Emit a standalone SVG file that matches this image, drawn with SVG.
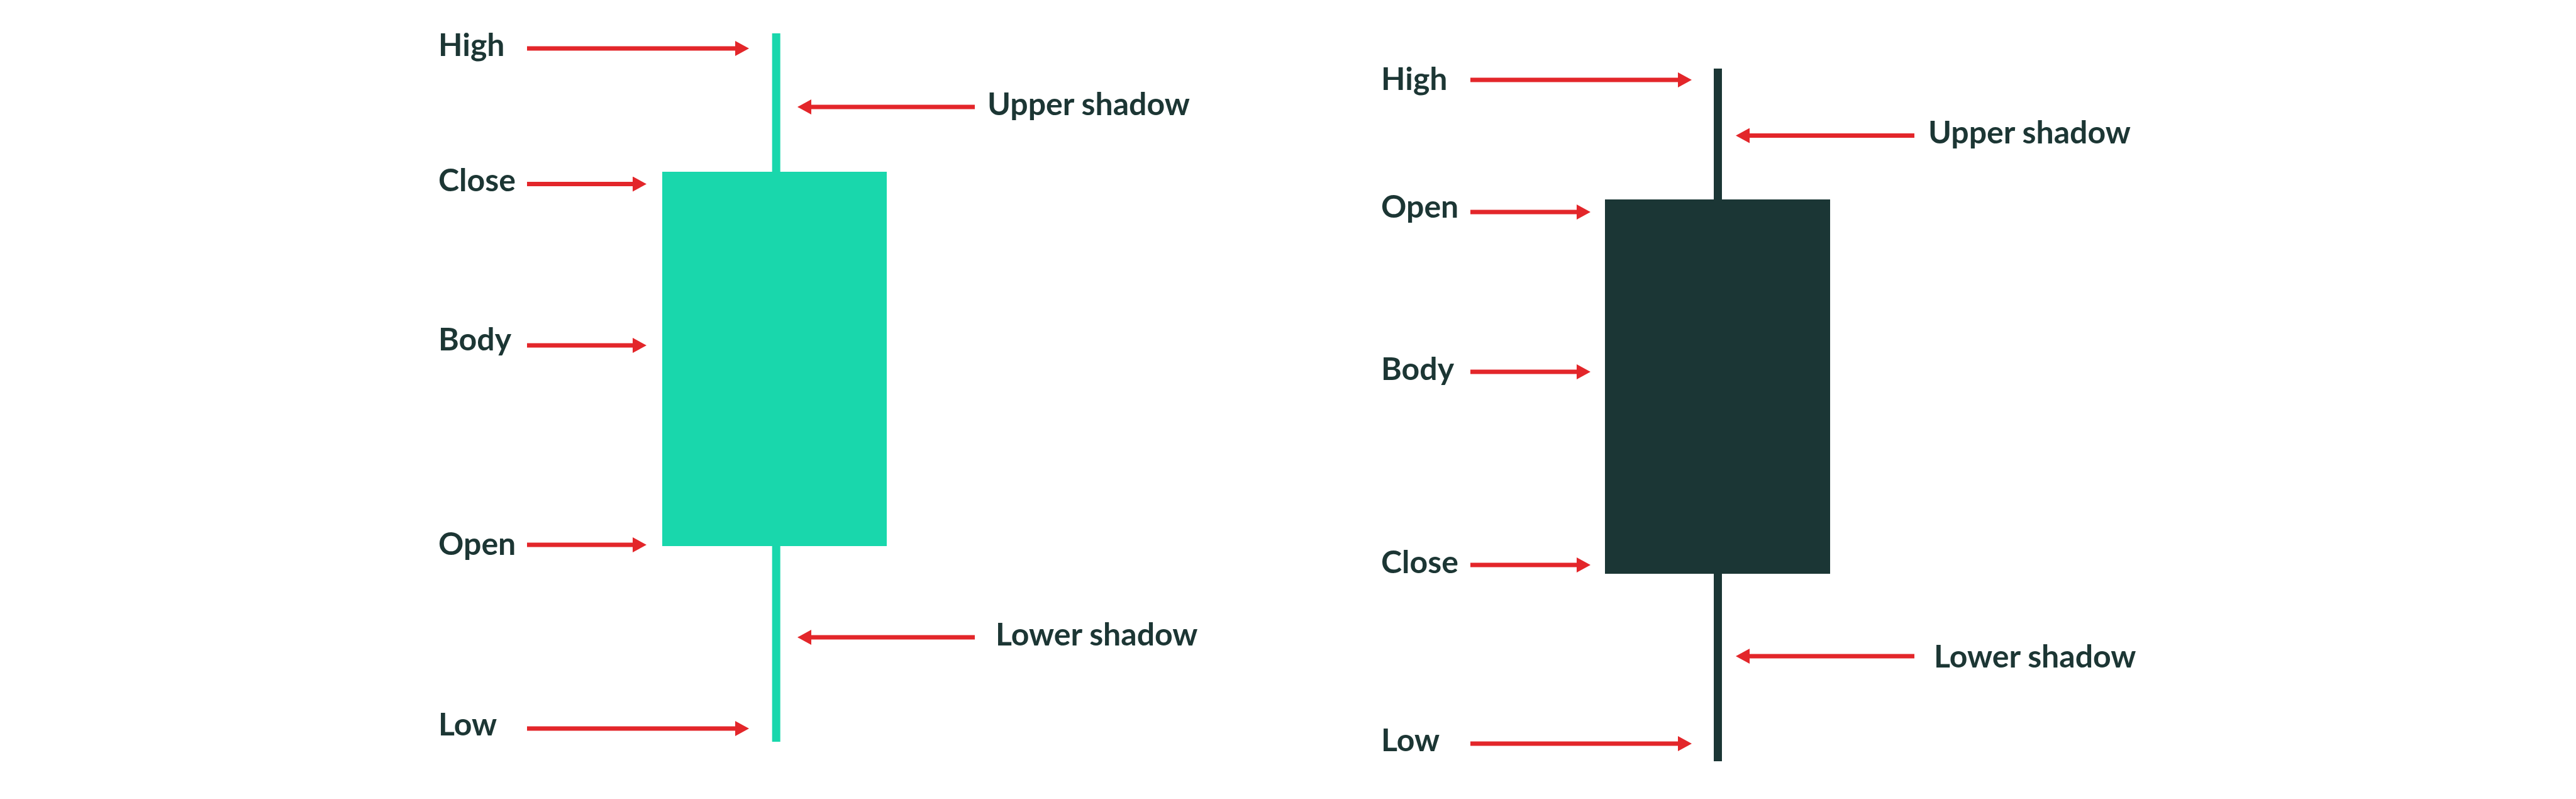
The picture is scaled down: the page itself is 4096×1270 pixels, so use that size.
<svg xmlns="http://www.w3.org/2000/svg" width="4096" height="1270" viewBox="0 0 4096 1270">
<style>
.lbl{font-family:Lato,"Liberation Sans",sans-serif;font-weight:700;font-size:50px;fill:#1c3634}
.arr{stroke:#e3262a;stroke-width:7;fill:none;marker-end:url(#ah)}
.bull{fill:#19d7ac}
.bear{fill:#1b3635}
</style>
<defs>
<marker id="ah" markerUnits="userSpaceOnUse" viewBox="0 0 22 24" markerWidth="22" markerHeight="24" refX="10" refY="12" orient="auto">
<path d="M0,0 L22,12 L0,24 z" fill="#e3262a"/>
</marker>
</defs>
<rect width="4096" height="1270" fill="#ffffff"/>
<g id="bullish-candle">
<rect class="bull" x="1227.7" y="53" width="13" height="1126"/>
<rect class="bull" x="1053" y="273" width="357" height="595"/>
</g>
<g id="bearish-candle">
<rect class="bear" x="2725" y="109" width="13" height="1101"/>
<rect class="bear" x="2552" y="317" width="358" height="595"/>
</g>
<g id="bullish-labels">
<text class="lbl" x="697" y="89">High</text>
<text class="lbl" x="697" y="304">Close</text>
<text class="lbl" x="697" y="557">Body</text>
<text class="lbl" x="697" y="882">Open</text>
<text class="lbl" x="697" y="1169">Low</text>
<text class="lbl" x="1570" y="183">Upper shadow</text>
<text class="lbl" x="1583" y="1026">Lower shadow</text>
</g>
<g id="bearish-labels">
<text class="lbl" x="2196" y="143">High</text>
<text class="lbl" x="2196" y="346">Open</text>
<text class="lbl" x="2196" y="604">Body</text>
<text class="lbl" x="2196" y="911">Close</text>
<text class="lbl" x="2196" y="1194">Low</text>
<text class="lbl" x="3066" y="228">Upper shadow</text>
<text class="lbl" x="3075" y="1061">Lower shadow</text>
</g>
<g id="connectors">
<path class="arr" d="M838,77 H1179"/>
<path class="arr" d="M838,292.5 H1016"/>
<path class="arr" d="M838,549 H1016"/>
<path class="arr" d="M838,866 H1016"/>
<path class="arr" d="M838,1158 H1179"/>
<path class="arr" d="M1550,170 H1280"/>
<path class="arr" d="M1550,1013 H1280"/>
<path class="arr" d="M2338,127 H2678"/>
<path class="arr" d="M2338,337 H2517"/>
<path class="arr" d="M2338,591 H2517"/>
<path class="arr" d="M2338,898 H2517"/>
<path class="arr" d="M2338,1182 H2678"/>
<path class="arr" d="M3044,215.5 H2772"/>
<path class="arr" d="M3044,1043 H2772"/>
</g>
</svg>
